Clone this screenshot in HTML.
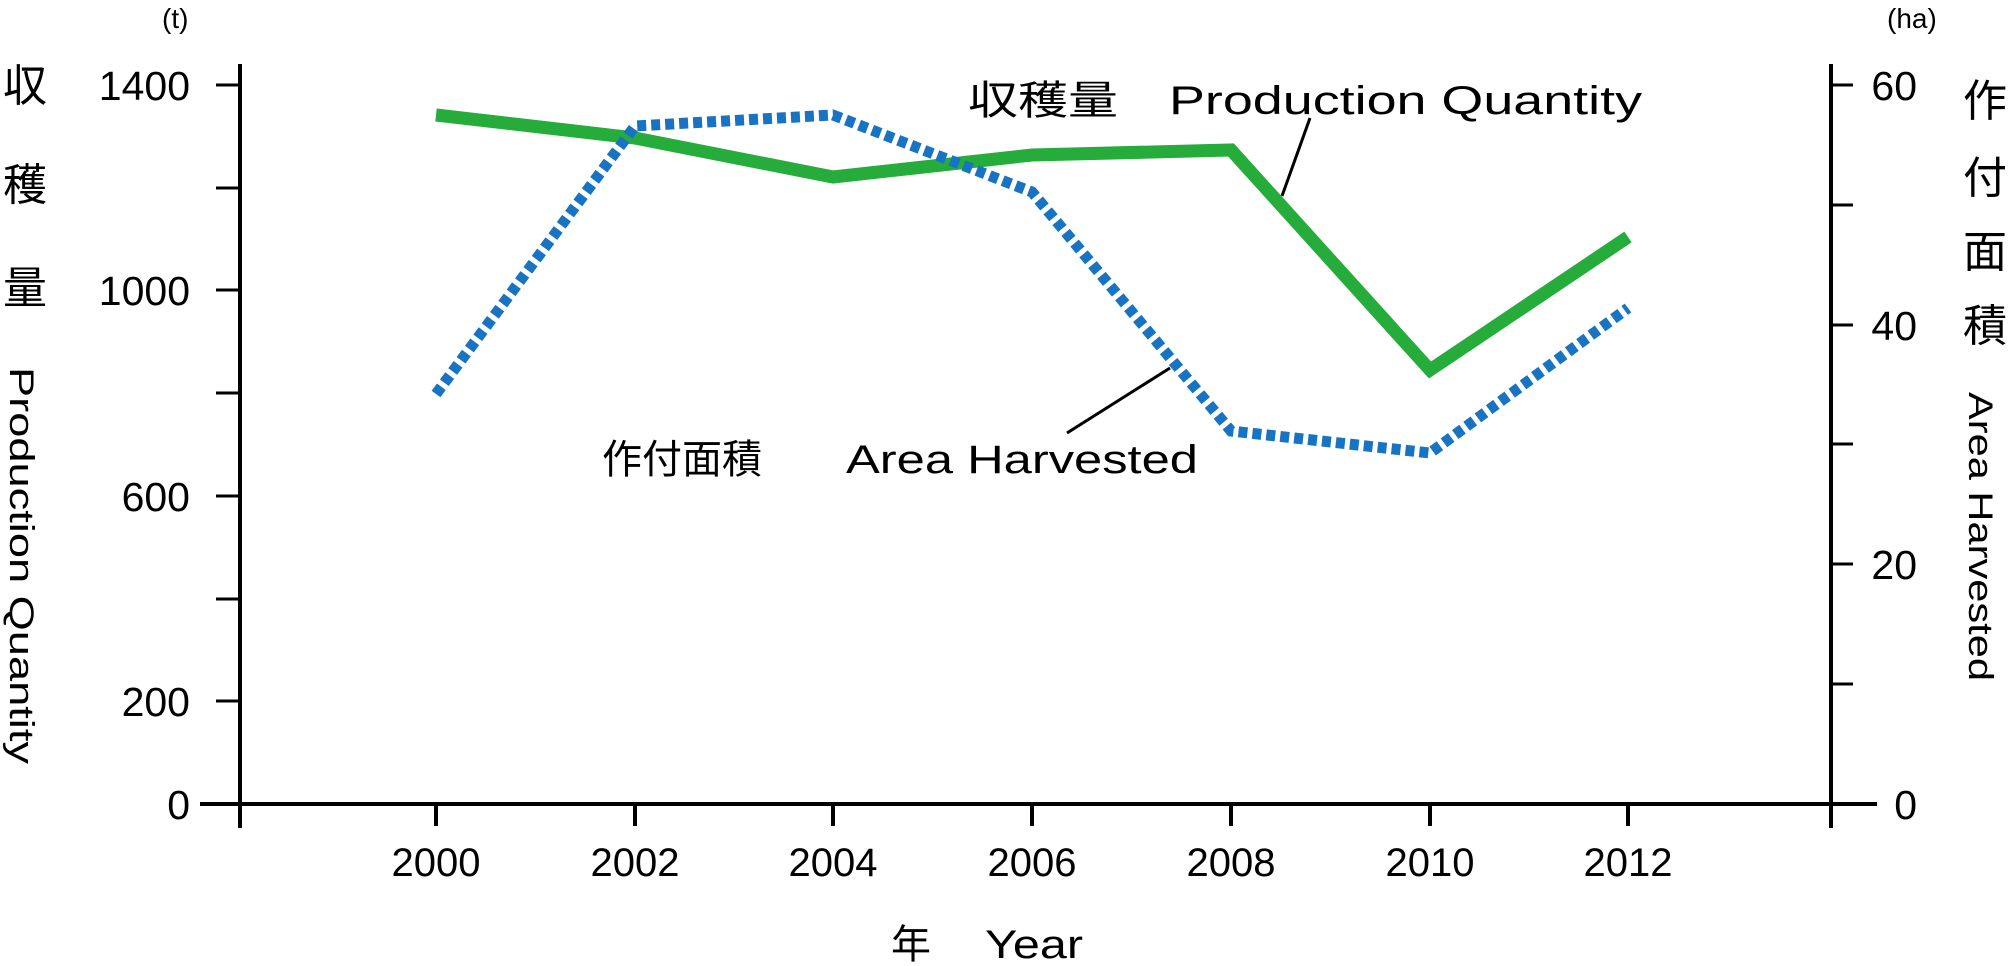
<!DOCTYPE html>
<html><head><meta charset="utf-8"><style>html,body{margin:0;padding:0;background:#fff}svg{display:block}</style></head>
<body>
<svg width="2010" height="966" viewBox="0 0 2010 966" xmlns="http://www.w3.org/2000/svg" font-family="'Liberation Sans','Noto Sans CJK JP',sans-serif" fill="#000">
<g stroke="#000" stroke-width="4" fill="none">
<line x1="240" y1="64" x2="240" y2="828"/>
<line x1="1831" y1="64" x2="1831" y2="828"/>
<line x1="200" y1="804" x2="1877" y2="804"/>
<g stroke-width="3">
<line x1="216" y1="85" x2="240" y2="85"/><line x1="216" y1="188" x2="240" y2="188"/>
<line x1="216" y1="290" x2="240" y2="290"/><line x1="216" y1="393" x2="240" y2="393"/>
<line x1="216" y1="496" x2="240" y2="496"/><line x1="216" y1="599" x2="240" y2="599"/>
<line x1="216" y1="701" x2="240" y2="701"/>
<line x1="1831" y1="85" x2="1853" y2="85"/><line x1="1831" y1="205" x2="1853" y2="205"/>
<line x1="1831" y1="325" x2="1853" y2="325"/><line x1="1831" y1="444" x2="1853" y2="444"/>
<line x1="1831" y1="564" x2="1853" y2="564"/><line x1="1831" y1="684" x2="1853" y2="684"/>
</g>
<g stroke-width="4">
<line x1="436" y1="804" x2="436" y2="826"/><line x1="635" y1="804" x2="635" y2="826"/>
<line x1="833" y1="804" x2="833" y2="826"/><line x1="1032" y1="804" x2="1032" y2="826"/>
<line x1="1231" y1="804" x2="1231" y2="826"/><line x1="1430" y1="804" x2="1430" y2="826"/>
<line x1="1628" y1="804" x2="1628" y2="826"/>
</g>
<line x1="1310" y1="118" x2="1282" y2="196" stroke-width="3"/>
<line x1="1067" y1="433" x2="1170" y2="368" stroke-width="3"/>
<polyline points="436,115 635,138 833,177 1032,155 1231,150 1430,370 1628,237" stroke="#25ac3b" stroke-width="13" stroke-linejoin="miter"/>
<polyline points="436,394 635,126 833,115 1032,192 1231,431 1430,453 1628,308" stroke="#1874c2" stroke-width="11" stroke-dasharray="9,5"/>
</g>
<g font-size="41" text-anchor="end">
<text x="190" y="100">1400</text><text x="190" y="305">1000</text><text x="190" y="511">600</text>
<text x="190" y="716">200</text><text x="190" y="819">0</text>
</g>
<g font-size="41" text-anchor="end">
<text x="1917" y="100">60</text><text x="1917" y="340">40</text><text x="1917" y="579">20</text><text x="1917" y="819">0</text>
</g>
<g font-size="40" text-anchor="middle">
<text x="436" y="876">2000</text><text x="635" y="876">2002</text><text x="833" y="876">2004</text>
<text x="1032" y="876">2006</text><text x="1231" y="876">2008</text><text x="1430" y="876">2010</text>
<text x="1628" y="876">2012</text>
</g>
<text x="891" y="958" font-size="40">年</text>
<text x="985" y="958" font-size="40" textLength="98" lengthAdjust="spacingAndGlyphs">Year</text>
<text x="162" y="28" font-size="28">(t)</text>
<text x="1887" y="28" font-size="28">(ha)</text>
<g font-size="44" text-anchor="middle">
<text x="25" y="101">収</text><text x="25" y="200">穫</text><text x="25" y="303">量</text>
<text x="1985" y="116">作</text><text x="1985" y="193">付</text><text x="1985" y="267">面</text><text x="1985" y="341">積</text>
</g>
<text transform="translate(10,367) rotate(90)" font-size="34" textLength="397" lengthAdjust="spacingAndGlyphs">Production Quantity</text>
<text transform="translate(1969,392) rotate(90)" font-size="34" textLength="289" lengthAdjust="spacingAndGlyphs">Area Harvested</text>
<text x="968" y="114" font-size="40" textLength="150" lengthAdjust="spacingAndGlyphs">収穫量</text>
<text x="1169" y="114" font-size="40" textLength="473" lengthAdjust="spacingAndGlyphs">Production Quantity</text>
<text x="602" y="473" font-size="40" textLength="160" lengthAdjust="spacingAndGlyphs">作付面積</text>
<text x="846" y="473" font-size="40" textLength="352" lengthAdjust="spacingAndGlyphs">Area Harvested</text>
</svg>
</body></html>
